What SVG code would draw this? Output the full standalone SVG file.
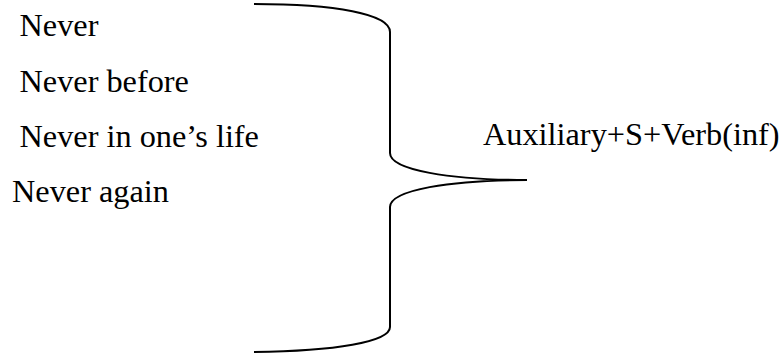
<svg xmlns="http://www.w3.org/2000/svg" width="782" height="353" viewBox="0 0 782 353">
<style>
.t{font-family:"Liberation Serif","Times New Roman",serif;font-size:32.3px;fill:#000}
.b{fill:none;stroke:#000;stroke-width:2}
</style>
<rect width="782" height="353" fill="#fff"/>
<g id="items">
<text class="t" x="19.5" y="36">Never</text>
<text class="t" x="19.5" y="91.5">Never before</text>
<text class="t" x="19.5" y="147">Never in one’s life</text>
<text class="t" x="12" y="202">Never again</text>
</g>
<g id="connectors">
<path class="b" d="M254,4 C335,4 390,14 390,32 L390,153 C390,170 450,180 527,180 C450,180 390,190 390,207 L390,327 C390,342 335,351 254,352"/>
</g>
<g id="result">
<text class="t" x="483" y="145">Auxiliary+S+Verb(inf)</text>
</g>
</svg>
